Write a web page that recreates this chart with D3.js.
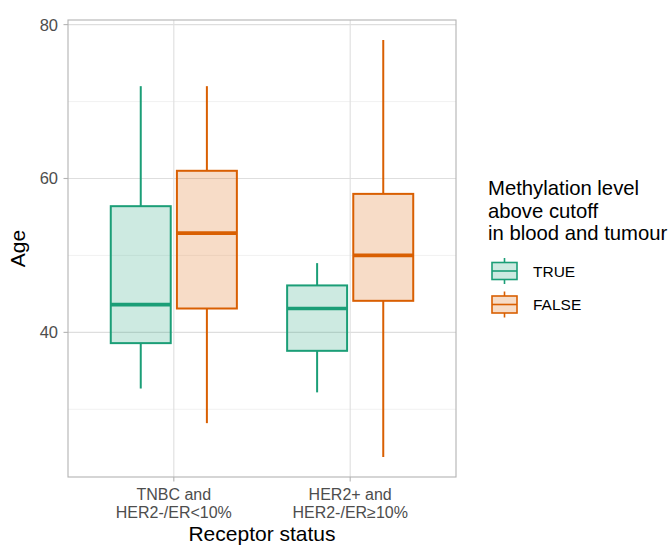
<!DOCTYPE html>
<html><head><meta charset="utf-8">
<script src="https://cdn.jsdelivr.net/npm/d3@7"></script>
<style>body{margin:0;background:#fff;} text{font-family:"Liberation Sans",Arial,sans-serif;}</style>
</head><body>
<svg id="c" width="671" height="547"></svg>
<script>
const categories = ["TNBC and\nHER2-/ER<10%", "HER2+ and\nHER2-/ER\u226510%"];
const groups = ["TRUE", "FALSE"];
const colors = ["#1B9E77", "#D95F02"];
// [whiskerLow, q1, median, q3, whiskerHigh] per category per group
const trueStats  = [[32.7, 38.6, 43.6, 56.4, 72], [32.2, 37.6, 43.1, 46.1, 49]];
const falseStats = [[28.2, 43.1, 52.9, 61, 72], [23.8, 44.1, 50, 58, 78]];
const yTicks = [40, 60, 80];
const yMinor = [30, 50, 70];

const svg = d3.select("#c");
const L = 68, R = 456, T = 20, B = 477;
const y = d3.scaleLinear().domain([21.2, 80.6]).range([B, T]);
const x = d3.scalePoint().domain(categories).range([L, R]).padding(0.6);
const cx = c => x(c);
const unit = x.step();

// grid
const g = svg.append("g");
yMinor.forEach(v => g.append("line").attr("x1", L).attr("x2", R).attr("y1", y(v)).attr("y2", y(v)).attr("stroke", "#ededed").attr("stroke-width", 0.8));
yTicks.forEach(v => g.append("line").attr("x1", L).attr("x2", R).attr("y1", y(v)).attr("y2", y(v)).attr("stroke", "#dedede").attr("stroke-width", 1.1));
categories.forEach(c => g.append("line").attr("x1", cx(c)).attr("x2", cx(c)).attr("y1", T).attr("y2", B).attr("stroke", "#dedede").attr("stroke-width", 1.1));

// boxes
const allStats = [trueStats, falseStats];
const boxW = 0.34 * unit;
groups.forEach((grp, gi) => {
  categories.forEach((c, ci) => {
    const s = allStats[gi][ci];
    const xc = cx(c) + (gi === 0 ? -1 : 1) * 0.1875 * unit;
    const col = colors[gi];
    g.append("line").attr("x1", xc).attr("x2", xc).attr("y1", y(s[4])).attr("y2", y(s[3])).attr("stroke", col).attr("stroke-width", 2);
    g.append("line").attr("x1", xc).attr("x2", xc).attr("y1", y(s[1])).attr("y2", y(s[0])).attr("stroke", col).attr("stroke-width", 2);
    g.append("rect").attr("x", xc - boxW/2).attr("width", boxW).attr("y", y(s[3])).attr("height", y(s[1]) - y(s[3]))
      .attr("fill", col).attr("fill-opacity", 0.22).attr("stroke", col).attr("stroke-width", 2);
    g.append("line").attr("x1", xc - boxW/2).attr("x2", xc + boxW/2).attr("y1", y(s[2])).attr("y2", y(s[2])).attr("stroke", col).attr("stroke-width", 3.6);
  });
});

// panel border
svg.append("rect").attr("x", L).attr("y", T).attr("width", R - L).attr("height", B - T).attr("fill", "none").attr("stroke", "#b3b3b3").attr("stroke-width", 1.1);

// y axis
yTicks.forEach(v => {
  svg.append("line").attr("x1", L - 4.5).attr("x2", L).attr("y1", y(v)).attr("y2", y(v)).attr("stroke", "#b3b3b3").attr("stroke-width", 1.1);
  svg.append("text").attr("x", L - 10).attr("y", y(v)).attr("dy", "0.36em").attr("text-anchor", "end").attr("font-size", 16.5).attr("fill", "#4d4d4d").text(v);
});
// x axis
categories.forEach(c => {
  svg.append("line").attr("x1", cx(c)).attr("x2", cx(c)).attr("y1", B).attr("y2", B + 4.5).attr("stroke", "#b3b3b3").attr("stroke-width", 1.1);
  const lines = c.split("\n");
  const t = svg.append("text").attr("text-anchor", "middle").attr("font-size", 16).attr("fill", "#4d4d4d");
  lines.forEach((ln, i) => t.append("tspan").attr("x", cx(c)).attr("y", 500 + i * 18).text(ln));
});
svg.append("text").attr("x", (L + R)/2).attr("y", 541).attr("text-anchor", "middle").attr("font-size", 21).attr("fill", "#000").text("Receptor status");
svg.append("text").attr("transform", `translate(25,${(T + B)/2}) rotate(-90)`).attr("text-anchor", "middle").attr("font-size", 21).attr("fill", "#000").text("Age");

// legend
const legTitle = ["Methylation level", "above cutoff", "in blood and tumour"];
const lt = svg.append("text").attr("font-size", 20.3).attr("fill", "#000");
legTitle.forEach((ln, i) => lt.append("tspan").attr("x", 488).attr("y", 195 + i * 22.5).text(ln));
groups.forEach((grp, gi) => {
  const yc = 271 + gi * 33.5;
  const col = colors[gi];
  const kx = 504.5;
  svg.append("line").attr("x1", kx).attr("x2", kx).attr("y1", yc - 13).attr("y2", yc + 13).attr("stroke", col).attr("stroke-width", 1.6);
  svg.append("rect").attr("x", kx - 12.5).attr("width", 25).attr("y", yc - 8.5).attr("height", 17)
    .attr("fill", "#fff").attr("stroke", "none");
  svg.append("rect").attr("x", kx - 12.5).attr("width", 25).attr("y", yc - 8.5).attr("height", 17)
    .attr("fill", col).attr("fill-opacity", 0.22).attr("stroke", col).attr("stroke-width", 1.6);
  svg.append("line").attr("x1", kx - 12.5).attr("x2", kx + 12.5).attr("y1", yc).attr("y2", yc).attr("stroke", col).attr("stroke-width", 1.6);
  svg.append("text").attr("x", 533).attr("y", yc).attr("dy", "0.36em").attr("font-size", 15.5).attr("fill", "#000").text(grp);
});
</script>
</body></html>
